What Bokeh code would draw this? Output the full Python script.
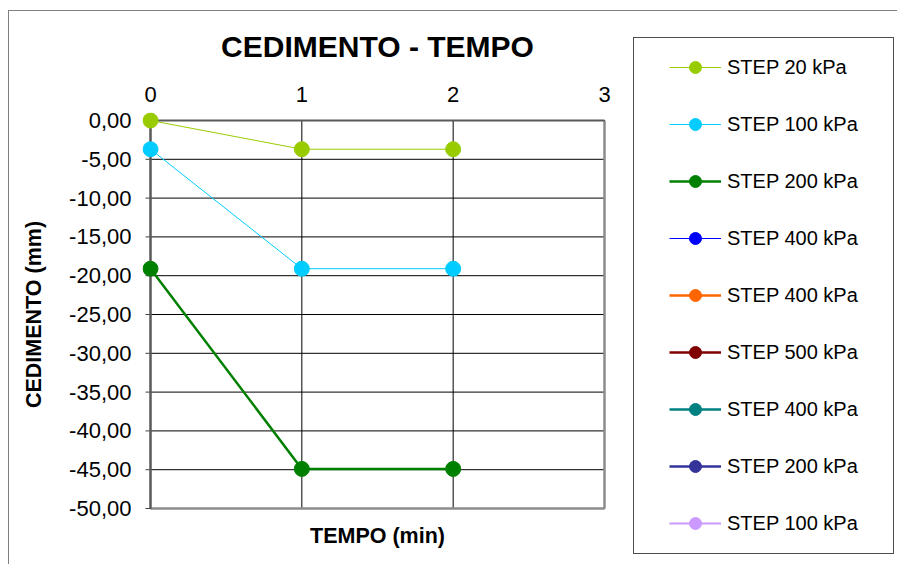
from bokeh.plotting import figure
from bokeh.models import (Range1d, FixedTicker, Legend, LegendItem, Title,
                          InlineStyleSheet)
from bokeh.embed import file_html
from bokeh.resources import INLINE

# ---------------- data ----------------
tempo = [0, 1, 2]
series_names = ["STEP 20 kPa", "STEP 100 kPa", "STEP 200 kPa", "STEP 400 kPa",
                "STEP 400 kPa", "STEP 500 kPa", "STEP 400 kPa", "STEP 200 kPa",
                "STEP 100 kPa"]
step_20 = [0.0, -3.7, -3.7]
step_100 = [-3.7, -19.1, -19.1]
step_200 = [-19.1, -44.9, -44.9]
step_400_a = []
step_400_b = []
step_500 = []
step_400_c = []
step_200_b = []
step_100_b = []
x_ticks = [0, 1, 2, 3]
y_ticks = [0, -5, -10, -15, -20, -25, -30, -35, -40, -45, -50]
y_tick_labels = ["0,00", "-5,00", "-10,00", "-15,00", "-20,00", "-25,00",
                 "-30,00", "-35,00", "-40,00", "-45,00", "-50,00"]
x_min, x_max = 0, 3
y_min, y_max = -50, 0

# ---------------- styles ----------------
series_values = [step_20, step_100, step_200, step_400_a, step_400_b,
                 step_500, step_400_c, step_200_b, step_100_b]
colors = ["#99CC00", "#00CCFF", "#008000", "#0000FF", "#FF6600",
          "#800000", "#008080", "#333399", "#CC99FF"]
line_widths = [1, 1, 2.5, 1, 2.5, 2.5, 2.5, 2.5, 2]
FONT = "Liberation Sans"

# plot area 454 x 388 px, plus an 8 px margin so markers on the edges are not cut
PLOT_W, PLOT_H, PAD = 454, 388, 8
px_x = (x_max - x_min) / PLOT_W
px_y = (y_max - y_min) / PLOT_H
TICK_LEN = 5

css = """
:host { position: relative; }
:host::after {
  content: ""; position: absolute; z-index: 10; pointer-events: none;
  box-sizing: border-box;
  left: 633px; top: 37px; width: 261px; height: 517px;
  border: 1px solid #4d4d4d;
}
:host::before {
  content: ""; position: absolute; z-index: 10; pointer-events: none;
  box-sizing: border-box;
  left: 8px; top: 10px; right: 0px; bottom: 0px;
  border-left: 1px solid #7f7f7f; border-top: 1px solid #7f7f7f;
}
"""

p = figure(frame_width=PLOT_W + 2 * PAD, frame_height=PLOT_H + 2 * PAD,
           min_border_left=150 - PAD, min_border_right=283,
           min_border_top=120 - PAD, min_border_bottom=48,
           x_range=Range1d(x_min - PAD * px_x, x_max + PAD * px_x),
           y_range=Range1d(y_min - PAD * px_y, y_max + PAD * px_y),
           x_axis_location="above",
           output_backend="svg", toolbar_location=None,
           background_fill_color="white", border_fill_color="white",
           outline_line_color=None,
           stylesheets=[InlineStyleSheet(css=css)])

p.title = Title(text="CEDIMENTO - TEMPO", align="center",
                text_font=FONT, text_font_size="30px", text_font_style="bold",
                text_color="black", standoff=41)

p.add_layout(Title(text="TEMPO (min)", align="center", text_font=FONT,
                   text_font_size="21.5px", text_font_style="bold",
                   text_color="black", standoff=11), "below")

p.xgrid.visible = False
p.ygrid.visible = False

# grid lines inside the plot area, from the tick lists
p.segment(x0=[x_min] * len(y_ticks), x1=[x_max] * len(y_ticks),
          y0=y_ticks, y1=y_ticks, line_color="#000000", line_width=1)
p.segment(x0=x_ticks, x1=x_ticks, y0=[y_min] * len(x_ticks),
          y1=[y_max] * len(x_ticks), line_color="#000000", line_width=1)
# plot-area border on the right and bottom
p.segment(x0=[x_max, x_min], x1=[x_max, x_max], y0=[y_min, y_min],
          y1=[y_max, y_min], line_color="#8c8c8c", line_width=2.5)
# value-axis ticks (outside, left) and axis lines
p.segment(x0=[x_min - TICK_LEN * px_x] * len(y_ticks), x1=[x_min] * len(y_ticks),
          y0=y_ticks, y1=y_ticks, line_color="#404040", line_width=1)
p.segment(x0=[x_min], x1=[x_min], y0=[y_min], y1=[y_max],
          line_color="#595959", line_width=2.5)
p.segment(x0=[x_min], x1=[x_max], y0=[y_max], y1=[y_max],
          line_color="#595959", line_width=2)

xa = p.xaxis[0]
xa.ticker = FixedTicker(ticks=x_ticks)
xa.major_label_text_font = FONT
xa.major_label_text_font_size = "22px"
xa.major_label_text_color = "black"
xa.major_tick_out = 0
xa.major_tick_in = 0
xa.minor_tick_out = 0
xa.minor_tick_in = 0
xa.major_label_standoff = 11
xa.axis_line_color = None

ya = p.yaxis[0]
ya.ticker = FixedTicker(ticks=y_ticks)
ya.major_label_overrides = {t: l for t, l in zip(y_ticks, y_tick_labels)}
ya.major_label_text_font = FONT
ya.major_label_text_font_size = "22px"
ya.major_label_text_color = "black"
ya.major_tick_out = 0
ya.major_tick_in = 0
ya.minor_tick_out = 0
ya.minor_tick_in = 0
ya.major_label_standoff = 11
ya.axis_line_color = None
ya.axis_label = "CEDIMENTO (mm)"
ya.axis_label_text_font = FONT
ya.axis_label_text_font_size = "21.5px"
ya.axis_label_text_font_style = "bold"
ya.axis_label_text_color = "black"
ya.axis_label_standoff = 20

nan = float("nan")
items = []
for name, vals, c, lw in zip(series_names, series_values, colors, line_widths):
    xs = tempo[:len(vals)] if vals else [nan]
    ys = vals if vals else [nan]
    r1 = p.line(xs, ys, line_color=c, line_width=lw)
    r2 = p.scatter(xs, ys, marker="circle", size=15, fill_color=c, line_color=c)
    items.append(LegendItem(label=name, renderers=[r1, r2]))

legend = Legend(items=items, location=(21, -58), border_line_alpha=0,
                background_fill_alpha=0, padding=36, spacing=27,
                label_height=30, glyph_height=30, glyph_width=52,
                label_standoff=6, label_text_font=FONT,
                label_text_font_size="20px", label_text_color="black", margin=0)
p.add_layout(legend, "right")

open("out.html", "w").write(file_html(p, INLINE))
